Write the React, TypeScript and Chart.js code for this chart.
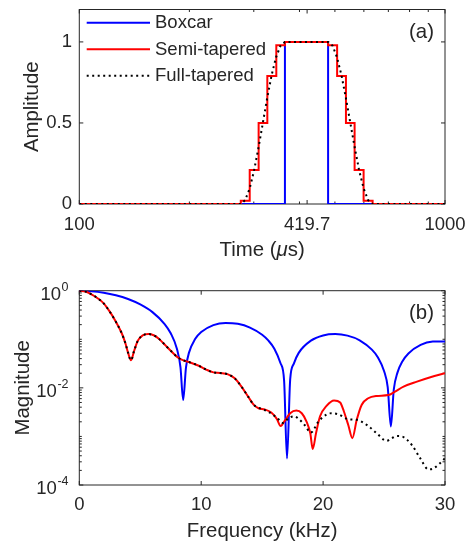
import React, { useEffect, useRef } from 'react';
import { Chart, registerables } from 'chart.js';

Chart.register(...registerables);

const FONT = "'Liberation Sans', Arial, Helvetica, sans-serif";
const INK = '#262626';
const TICK_FONT = 18.5;
const LABEL_FONT = 20.4;
const LEGEND_FONT = 18.5;

Chart.defaults.font.family = FONT;

// ---------- Panel (a): window shapes (time in microseconds) ----------
const timeTicks = [100, 419.7, 1000];
const timeMinorTicks = [200, 300, 400, 500, 600, 700, 800, 900];
const ampTicks = [0, 0.5, 1];

const boxcarTime = [100, 365, 479, 1000];
const boxcarAmp = [0, 1, 0, 0];

const semiTime = [100, 276.4, 292.4, 309.3, 326.7, 345.7, 365, 479, 507, 536, 566, 599, 634, 1000];
const semiAmp = [0, 0.02, 0.21, 0.5, 0.79, 0.98, 1, 0.98, 0.79, 0.5, 0.21, 0.02, 0, 0];

const fullTime = [100, 276.4, 284.1, 292.3, 300.5, 308.9, 317.6, 326.5, 335.6, 345.1, 354.9, 364.9, 479, 492.8, 506.6, 521.1, 535.7, 551, 566.8, 582.6, 599.4, 616.1, 633.9, 1000];
const fullAmp = [0, 0, 0.024, 0.095, 0.206, 0.345, 0.5, 0.655, 0.794, 0.905, 0.976, 1, 1, 0.976, 0.905, 0.794, 0.655, 0.5, 0.345, 0.206, 0.095, 0.024, 0, 0];

// ---------- Panel (b): magnitude spectra (kHz) ----------
const freqTicks = [0, 10, 20, 30];
const magTickExponents = [0, -2, -4];

const boxcarFreq = [0, 1, 2, 3, 4, 5, 6, 7, 7.5, 8, 8.3, 8.52, 8.75, 9, 9.5, 10, 11, 12, 13, 14, 15, 15.5, 16, 16.5, 16.8, 17.04, 17.3, 17.6, 18, 19, 20, 21, 22, 23, 24, 24.5, 25, 25.3, 25.56, 25.8, 26.1, 26.5, 27, 28, 29, 30];
const boxcarMag = [1, 0.9775, 0.912, 0.808, 0.675, 0.522, 0.362, 0.206, 0.133, 0.0646, 0.0265, 0.0056, 0.0262, 0.0531, 0.101, 0.141, 0.196, 0.217, 0.208, 0.174, 0.124, 0.0946, 0.0639, 0.0325, 0.0143, 0.00035, 0.015, 0.0316, 0.0525, 0.0936, 0.12, 0.128, 0.119, 0.0954, 0.0611, 0.0423, 0.0223, 0.0103, 0.0016, 0.0093, 0.0206, 0.0349, 0.051, 0.0766, 0.0895, 0.0903];

const semiFreq = [0, 0.5, 1.0, 1.5, 2.0, 2.5, 3.0, 3.5, 3.8, 4.0, 4.24, 4.5, 4.8, 5.2, 5.65, 6.1, 6.5, 7.0, 7.5, 8.0, 8.4, 9.0, 9.8, 10.45, 11.0, 11.55, 12.2, 12.75, 13.3, 13.85, 14.3, 14.7, 15.2, 15.75, 16.2, 16.52, 16.9, 17.3, 17.8, 18.25, 18.65, 18.95, 19.15, 19.42, 19.75, 20.3, 20.9, 21.4, 21.7, 22.07, 22.4, 22.76, 23.17, 23.7, 24.4, 25.35, 25.9, 26.6, 27.7, 28.8, 30];
const semiMag = [1.0, 0.96, 0.84, 0.70, 0.55, 0.37, 0.23, 0.13, 0.08, 0.053, 0.037, 0.058, 0.093, 0.12, 0.128, 0.121, 0.104, 0.078, 0.058, 0.044, 0.038, 0.034, 0.0285, 0.0235, 0.0208, 0.0202, 0.019, 0.0157, 0.0106, 0.0066, 0.0045, 0.0038, 0.0036, 0.0031, 0.0023, 0.00164, 0.0022, 0.003, 0.0034, 0.003, 0.002, 0.00116, 0.00055, 0.00117, 0.0026, 0.0043, 0.0055, 0.005, 0.0033, 0.0017, 0.00092, 0.0022, 0.0045, 0.0061, 0.0068, 0.0071, 0.0084, 0.0106, 0.0134, 0.0165, 0.02];

const fullFreq = [0, 0.5, 1.0, 1.5, 2.0, 2.5, 3.0, 3.5, 3.8, 4.0, 4.24, 4.5, 4.8, 5.2, 5.65, 6.1, 6.5, 7.0, 7.5, 8.0, 8.4, 9.0, 9.8, 10.45, 11.0, 11.55, 12.2, 12.75, 13.3, 13.85, 14.3, 14.7, 15.2, 15.8, 16.3, 16.7, 17.2, 17.6, 18.0, 18.5, 19.0, 19.6, 20.3, 20.7, 21.25, 22.07, 22.76, 23.58, 24.4, 25.22, 25.63, 26.04, 26.45, 27.27, 27.95, 28.64, 29.05, 29.87, 30];
const fullMag = [1.0, 0.96, 0.84, 0.70, 0.55, 0.37, 0.23, 0.13, 0.08, 0.053, 0.037, 0.058, 0.093, 0.12, 0.128, 0.121, 0.104, 0.078, 0.058, 0.044, 0.038, 0.034, 0.0285, 0.0235, 0.0208, 0.0202, 0.019, 0.0157, 0.0106, 0.0066, 0.0045, 0.0039, 0.0035, 0.0029, 0.0023, 0.0019, 0.0024, 0.0026, 0.0023, 0.0017, 0.0012, 0.002, 0.00285, 0.003, 0.00285, 0.00226, 0.0022, 0.00173, 0.00116, 0.00081, 0.00092, 0.00102, 0.001, 0.00067, 0.00036, 0.00021, 0.00022, 0.00033, 0.00036];

const BLUE = '#0000ff';
const RED = '#ff0000';
const BLACK = '#000000';
const DOTS = [2, 3.5];

const pts = (xs: number[], ys: number[]) => xs.map((x, i) => ({ x, y: ys[i] }));

type PanelCfg = {
  xMajor: number[];
  xMinor: number[];
  yMajor: number[];
  yMinor: number[];
  tag: string;
  tagX: number;
  tagY: number;
  legend?: { x1: number; x2: number; textX: number; y0: number; dy: number };
  xTitle?: { parts: [string, boolean][]; y: number };
  yExp?: { exps: number[]; right: number };
};

function panelPlugin(cfg: PanelCfg) {
  return {
    id: 'panel',
    beforeDatasetsDraw(chart: any) {
      const { ctx, chartArea: a, scales } = chart;
      const xs = scales.x;
      const ys = scales.y;
      ctx.save();
      ctx.strokeStyle = INK;
      ctx.lineWidth = 1;
      ctx.setLineDash([]);
      ctx.beginPath();
      const vt = (v: number, len: number) => {
        const p = xs.getPixelForValue(v);
        ctx.moveTo(p, a.bottom);
        ctx.lineTo(p, a.bottom - len);
        ctx.moveTo(p, a.top);
        ctx.lineTo(p, a.top + len);
      };
      const ht = (v: number, len: number) => {
        const p = ys.getPixelForValue(v);
        ctx.moveTo(a.left, p);
        ctx.lineTo(a.left + len, p);
        ctx.moveTo(a.right, p);
        ctx.lineTo(a.right - len, p);
      };
      cfg.xMajor.forEach((v) => vt(v, 4));
      cfg.xMinor.forEach((v) => vt(v, 2.5));
      cfg.yMajor.forEach((v) => ht(v, 4));
      cfg.yMinor.forEach((v) => ht(v, 2.5));
      ctx.stroke();
      ctx.strokeRect(a.left, a.top, a.right - a.left, a.bottom - a.top);
      ctx.restore();
    },
    afterDatasetsDraw(chart: any) {
      const { ctx } = chart;
      ctx.save();
      if (cfg.legend) {
        const L = cfg.legend;
        chart.data.datasets.forEach((ds: any, i: number) => {
          const y = L.y0 + i * L.dy;
          ctx.strokeStyle = ds.borderColor;
          ctx.lineWidth = ds.borderWidth;
          ctx.setLineDash(ds.borderDash || []);
          ctx.beginPath();
          ctx.moveTo(L.x1, y);
          ctx.lineTo(L.x2, y);
          ctx.stroke();
          ctx.setLineDash([]);
          ctx.fillStyle = INK;
          ctx.font = `${LEGEND_FONT}px ${FONT}`;
          ctx.textAlign = 'left';
          ctx.textBaseline = 'middle';
          ctx.fillText(ds.label, L.textX, y + 0.5);
        });
      }
      ctx.fillStyle = INK;
      ctx.font = `${LABEL_FONT}px ${FONT}`;
      ctx.textAlign = 'right';
      ctx.textBaseline = 'middle';
      ctx.fillText(cfg.tag, cfg.tagX, cfg.tagY);
      ctx.restore();
    },
    afterDraw(chart: any) {
      const { ctx, chartArea: a, scales } = chart;
      ctx.save();
      ctx.fillStyle = INK;
      ctx.textBaseline = 'middle';
      if (cfg.xTitle) {
        const parts = cfg.xTitle.parts;
        const fontOf = (it: boolean) => `${it ? 'italic ' : ''}${LABEL_FONT}px ${FONT}`;
        let total = 0;
        const widths = parts.map(([t, it]) => {
          ctx.font = fontOf(it);
          const w = ctx.measureText(t).width;
          total += w;
          return w;
        });
        let x = (a.left + a.right) / 2 - total / 2;
        ctx.textAlign = 'left';
        parts.forEach(([t, it], i) => {
          ctx.font = fontOf(it);
          ctx.fillText(t, x, cfg.xTitle!.y);
          x += widths[i];
        });
      }
      if (cfg.yExp) {
        const ys = scales.y;
        cfg.yExp.exps.forEach((e) => {
          const p = ys.getPixelForValue(Math.pow(10, e));
          const sup = String(e);
          ctx.font = `12.5px ${FONT}`;
          const sw = ctx.measureText(sup).width;
          ctx.textAlign = 'left';
          ctx.fillText(sup, cfg.yExp!.right - sw, p - 3);
          ctx.font = `${TICK_FONT}px ${FONT}`;
          ctx.textAlign = 'right';
          ctx.fillText('10', cfg.yExp!.right - sw - 0.5, p + 4);
        });
      }
      ctx.restore();
    },
  };
}

const fixedTicks = (vals: number[]) => (s: any) => {
  s.ticks = vals.map((v) => ({ value: v }));
};

function topConfig(): any {
  return {
    type: 'line',
    data: {
      datasets: [
        { label: 'Boxcar', data: pts(boxcarTime, boxcarAmp), borderColor: BLUE, borderWidth: 2, stepped: 'before', pointRadius: 0, fill: false, order: 3 },
        { label: 'Semi-tapered', data: pts(semiTime, semiAmp), borderColor: RED, borderWidth: 2, stepped: 'before', pointRadius: 0, fill: false, order: 2 },
        { label: 'Full-tapered', data: pts(fullTime, fullAmp), borderColor: BLACK, borderWidth: 2, borderDash: DOTS, borderCapStyle: 'butt', tension: 0, pointRadius: 0, fill: false, order: 1 },
      ],
    },
    options: {
      animation: false,
      responsive: false,
      events: [],
      layout: { padding: { left: 0, right: 30, top: 9.5, bottom: 0 } },
      plugins: { legend: { display: false }, tooltip: { enabled: false } },
      scales: {
        x: {
          type: 'logarithmic',
          min: 100,
          max: 1000,
          afterBuildTicks: fixedTicks(timeTicks),
          ticks: { autoSkip: false, maxRotation: 0, color: INK, font: { size: TICK_FONT }, padding: 9.9, callback: (v: any) => String(v) },
          grid: { display: false, drawTicks: false },
          border: { display: false },
          title: { display: false },
          afterFit: (s: any) => { s.height = 61; s.paddingLeft = 0; s.paddingRight = 0; },
        },
        y: {
          type: 'linear',
          min: 0,
          max: 1.2,
          afterBuildTicks: fixedTicks(ampTicks),
          ticks: { autoSkip: false, color: INK, font: { size: TICK_FONT }, padding: 7.3, callback: (v: any) => String(v) },
          grid: { display: false, drawTicks: false },
          border: { display: false },
          title: { display: true, text: 'Amplitude', color: INK, font: { size: LABEL_FONT }, padding: { top: 19.8, bottom: 0 } },
          afterFit: (s: any) => { s.width = 79.3; s.paddingTop = 0; s.paddingBottom = 0; },
        },
      },
    },
    plugins: [
      panelPlugin({
        xMajor: timeTicks,
        xMinor: timeMinorTicks,
        yMajor: ampTicks,
        yMinor: [],
        tag: '(a)',
        tagX: 434,
        tagY: 32.3,
        legend: { x1: 86.7, x2: 150, textX: 155, y0: 22.7, dy: 26.5 },
        xTitle: { parts: [['Time (', false], ['\u03bc', true], ['s)', false]], y: 250 },
      }),
    ],
  };
}

function bottomConfig(): any {
  const yMinor: number[] = [];
  for (let e = -4; e < 0; e++) {
    for (let k = 1; k <= 9; k++) {
      if (k === 1 && e % 2 === 0) continue;
      yMinor.push(k * Math.pow(10, e));
    }
  }
  return {
    type: 'line',
    data: {
      datasets: [
        { label: 'Boxcar', data: pts(boxcarFreq, boxcarMag), borderColor: BLUE, borderWidth: 2, cubicInterpolationMode: 'monotone', pointRadius: 0, fill: false, order: 3 },
        { label: 'Semi-tapered', data: pts(semiFreq, semiMag), borderColor: RED, borderWidth: 2, cubicInterpolationMode: 'monotone', pointRadius: 0, fill: false, order: 2 },
        { label: 'Full-tapered', data: pts(fullFreq, fullMag), borderColor: BLACK, borderWidth: 2, borderDash: DOTS, borderCapStyle: 'butt', cubicInterpolationMode: 'monotone', pointRadius: 0, fill: false, order: 1 },
      ],
    },
    options: {
      animation: false,
      responsive: false,
      events: [],
      layout: { padding: { left: 0, right: 30, top: 25.7, bottom: 0 } },
      plugins: { legend: { display: false }, tooltip: { enabled: false } },
      scales: {
        x: {
          type: 'linear',
          min: 0,
          max: 30,
          afterBuildTicks: fixedTicks(freqTicks),
          ticks: { autoSkip: false, maxRotation: 0, color: INK, font: { size: TICK_FONT }, padding: 8.9, callback: (v: any) => String(v) },
          grid: { display: false, drawTicks: false },
          border: { display: false },
          title: { display: true, text: 'Frequency (kHz)', color: INK, font: { size: LABEL_FONT }, padding: { top: 0, bottom: 3 } },
          afterFit: (s: any) => { s.height = 62; s.paddingLeft = 0; s.paddingRight = 0; },
        },
        y: {
          type: 'logarithmic',
          min: 1e-4,
          max: 1,
          ticks: { display: false },
          grid: { display: false, drawTicks: false },
          border: { display: false },
          title: { display: true, text: 'Magnitude', color: INK, font: { size: LABEL_FONT }, padding: { top: 11.3, bottom: 0 } },
          afterFit: (s: any) => { s.width = 79.3; s.paddingTop = 0; s.paddingBottom = 0; },
        },
      },
    },
    plugins: [
      panelPlugin({
        xMajor: freqTicks,
        xMinor: [],
        yMajor: magTickExponents.map((e) => Math.pow(10, e)),
        yMinor,
        tag: '(b)',
        tagX: 434,
        tagY: 48,
        yExp: { exps: magTickExponents, right: 68.5 },
      }),
    ],
  };
}

export default function App() {
  const topRef = useRef<HTMLCanvasElement>(null);
  const botRef = useRef<HTMLCanvasElement>(null);
  useEffect(() => {
    const c1 = new Chart(topRef.current as HTMLCanvasElement, topConfig());
    const c2 = new Chart(botRef.current as HTMLCanvasElement, bottomConfig());
    return () => {
      c1.destroy();
      c2.destroy();
    };
  }, []);
  return (
    <div style={{ position: 'absolute', left: 0, top: 0, width: 475, height: 547, background: '#ffffff' }}>
      <canvas ref={topRef} width={475} height={265} style={{ position: 'absolute', left: 0, top: 0, width: 475, height: 265 }} />
      <canvas ref={botRef} width={475} height={282} style={{ position: 'absolute', left: 0, top: 265, width: 475, height: 282 }} />
    </div>
  );
}
